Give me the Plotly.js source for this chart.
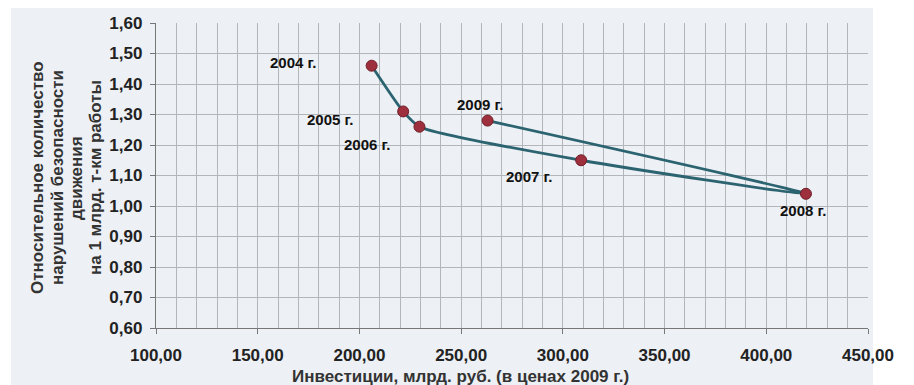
<!DOCTYPE html>
<html><head><meta charset="utf-8">
<script src="https://cdn.plot.ly/plotly-3.0.1.min.js"></script>
<style>html,body{margin:0;padding:0;background:#fff}#c{width:914px;height:385px}</style>
</head><body><div id="c"></div>
<script>
const years = ['2004 г.','2005 г.','2006 г.','2007 г.','2008 г.','2009 г.'];
const investments = [206, 221.5, 229.5, 309, 419.5, 263];
const violations = [1.46, 1.31, 1.26, 1.15, 1.04, 1.28];
const labelShiftX = [-79, -73, -52, -52, -3, -8];
const labelShiftY = [3, -8, -18, -16, -17, 16];
const yTitleLines = ['Относительное количество','нарушений безопасности','движения','на 1 млрд. т-км работы'];
const xTitle = 'Инвестиции, млрд. руб. (в ценах 2009 г.)';

const bg = '#edf0f4';
const fam = 'Liberation Sans, Arial, sans-serif';

const annotations = years.map((t,i)=>({
  x: investments[i], y: violations[i], xref:'x', yref:'y', text:t, showarrow:false,
  xshift: labelShiftX[i], yshift: labelShiftY[i],
  font:{family:fam, size:15, color:'#111', weight:'bold'}
}));
const plotW = 712, plotH = 305;
const yTitleX = [37, 57, 76, 95];
yTitleLines.forEach((t,i)=>{
  annotations.push({
    xref:'paper', yref:'paper', x:(yTitleX[i] - 156)/plotW, y:(328-178)/plotH,
    text:t, textangle:-90, showarrow:false, xanchor:'center', yanchor:'middle',
    font:{family:fam, size:17, color:'#333', weight:'bold'}
  });
});
annotations.push({
  xref:'paper', yref:'paper', x:(460-156)/plotW, y:(328-376)/plotH,
  text:xTitle, showarrow:false, xanchor:'center', yanchor:'middle',
  font:{family:fam, size:17, color:'#333', weight:'bold'}
});

const trace = {
  x: investments, y: violations, type:'scatter', mode:'lines+markers',
  line:{color:'#2b6470', width:2.8, shape:'spline', smoothing:0.6},
  marker:{size:11, color:'#9e2f3c', line:{color:'#6e1e28', width:1}},
  hoverinfo:'none'
};

const layout = {
  width:914, height:385,
  margin:{l:156, r:46, t:23, b:57},
  paper_bgcolor:'#ffffff', plot_bgcolor:bg,
  separators:', ',
  showlegend:false,
  font:{family:fam, size:12, color:'#222'},
  xaxis:{
    range:[100,450], dtick:50, tick0:100, tickformat:'.2f',
    showgrid:true, gridcolor:'#b2b5b9', gridwidth:1,
    minor:{dtick:10, tick0:100, showgrid:true, gridcolor:'#b2b5b9', gridwidth:1},
    ticks:'outside', ticklen:5, tickcolor:'#777', ticklabelstandoff:6,
    showline:true, linecolor:'#777', linewidth:1.2, zeroline:false,
    tickfont:{family:fam, size:17, color:'#222', weight:'bold'}
  },
  yaxis:{
    range:[0.6,1.6], dtick:0.1, tick0:0.6, tickformat:'.2f',
    showgrid:true, gridcolor:'#b2b5b9', gridwidth:1,
    ticks:'outside', ticklen:5, tickcolor:'#777', ticklabelstandoff:4,
    showline:true, linecolor:'#777', linewidth:1.2, zeroline:false,
    tickfont:{family:fam, size:17, color:'#222', weight:'bold'}
  },
  shapes:[{
    type:'rect', xref:'paper', yref:'paper', layer:'below',
    x0:(11-156)/plotW, x1:(873-156)/plotW, y0:(328-385)/plotH, y1:(328-8)/plotH,
    fillcolor:bg, line:{width:0}
  }],
  annotations: annotations
};
Plotly.newPlot('c',[trace],layout,{displayModeBar:false, staticPlot:true});
</script></body></html>
